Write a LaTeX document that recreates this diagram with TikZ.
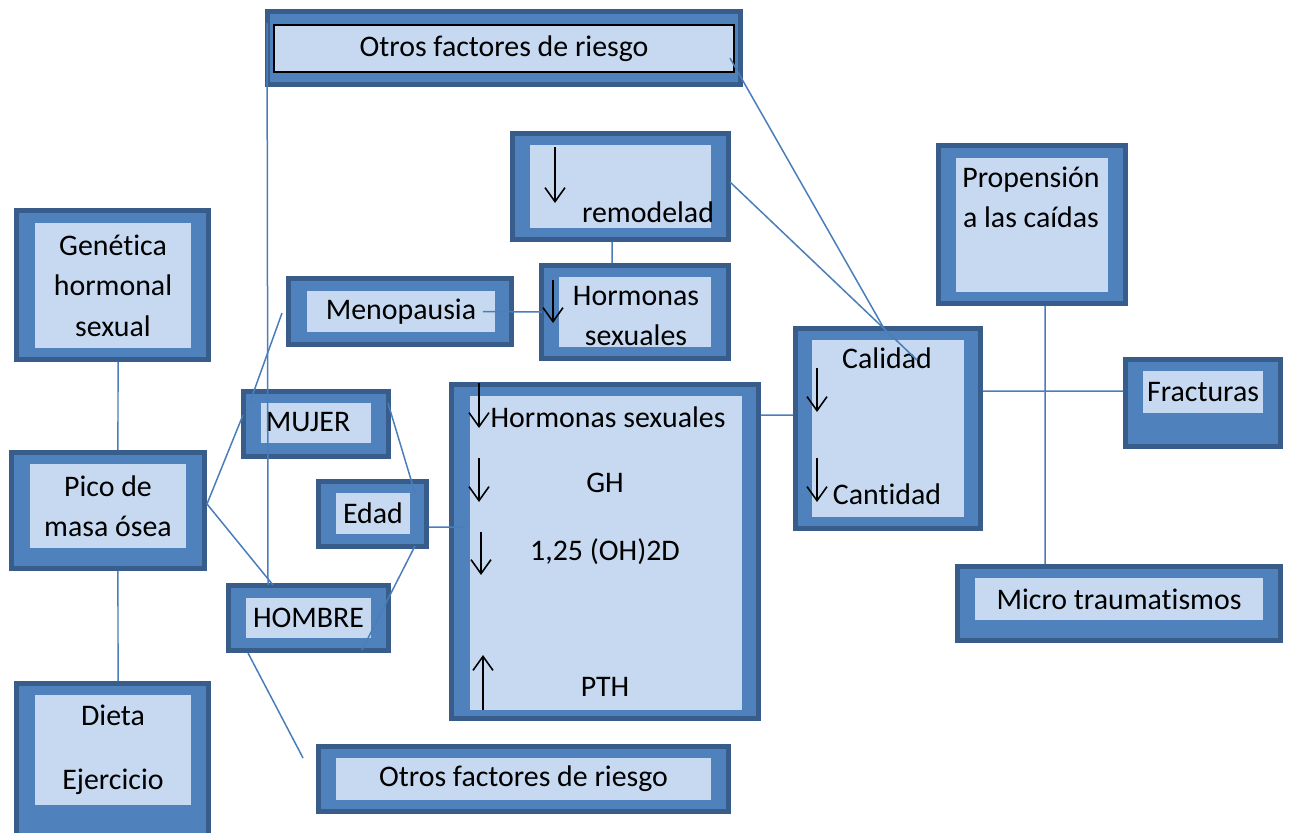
\documentclass[tikz,border=0pt]{standalone}
\usepackage{fontspec}
\setmainfont{Carlito}[Ligatures=NoCommon]
\usepackage{tikz}
\usetikzlibrary{arrows.meta, positioning, calc}
\definecolor{bdark}{RGB}{56,93,138}
\definecolor{bmid}{RGB}{79,129,189}
\definecolor{blight}{RGB}{198,217,241}
\definecolor{linkblue}{RGB}{74,126,187}
\newcommand{\boxfont}{\fontsize{17}{23}\selectfont}

\begin{document}
\begin{tikzpicture}[
      x=0.02cm, y=-0.02cm,
      outer/.style={draw=bdark, line width=0.1cm, fill=bmid, inner sep=0pt},
      inner/.style={fill=blight, inner sep=0pt, align=center, font=\boxfont},
      lbl/.style={inner sep=0pt, align=center, font=\boxfont},
      link/.style={draw=linkblue, line width=0.03cm},
      dn/.style={-{Straight Barb[length=0.28cm, width=0.4cm]}, line width=0.9pt}
  ]
    \useasboundingbox (0,0) rectangle (1291,832);
    \clip (0,0) rectangle (1291,832);

    % outer frames
    \node[outer, minimum width=9.46cm, minimum height=1.46cm] (otrosA) at (504,48) {};
    \node[outer, minimum width=4.32cm, minimum height=2.12cm] (remod)  at (620.5,186.5) {};
    \node[outer, minimum width=3.74cm, minimum height=1.86cm] (horm)   at (635,312) {};
    \node[outer, minimum width=4.46cm, minimum height=1.32cm] (meno)   at (400,311.5) {};
    \node[outer, minimum width=3.84cm, minimum height=2.98cm] (gen)    at (112.5,285) {};
    \node[outer, minimum width=3.86cm, minimum height=2.32cm] (pico)   at (108,510.5) {};
    \node[outer, minimum width=3.84cm, minimum height=3.28cm] (dieta)  at (112.5,765.5) {};
    \node[outer, minimum width=2.90cm, minimum height=1.30cm] (mujer)  at (316,424) {};
    \node[outer, minimum width=2.16cm, minimum height=1.30cm] (edad)   at (372.5,514) {};
    \node[outer, minimum width=3.20cm, minimum height=1.30cm] (hombre) at (308.5,618) {};
    \node[outer, minimum width=8.20cm, minimum height=1.30cm] (otrosB) at (523.5,779) {};
    \node[outer, minimum width=6.14cm, minimum height=6.68cm] (big)    at (605,551.5) {};
    \node[outer, minimum width=3.70cm, minimum height=4.00cm] (cal)    at (888,428.5) {};
    \node[outer, minimum width=3.74cm, minimum height=3.16cm] (prop)   at (1032,224.5) {};
    \node[outer, minimum width=3.10cm, minimum height=1.74cm] (frac)   at (1203,403) {};
    \node[outer, minimum width=6.46cm, minimum height=1.48cm] (micro)  at (1119,603.5) {};

    % inner panels
    \node[inner, draw=black, line width=0.04cm, minimum width=9.2cm, minimum height=0.94cm]
      (otrosA-in) at (504,48.5) {Otros factores de riesgo};
    \node[inner, minimum width=3.62cm, minimum height=1.66cm] (remod-in) at (620.5,186.5) {};
    \node[inner, minimum width=3.04cm, minimum height=1.40cm] (horm-in)  at (635,312) {};
    \node[inner, minimum width=3.76cm, minimum height=0.82cm] (meno-in)  at (401,311.5) {Menopausia};
    \node[inner, minimum width=3.12cm, minimum height=2.50cm] (gen-in)   at (113,285.5)
      {Genética\\hormonal\\sexual};
    \node[inner, minimum width=3.12cm, minimum height=1.68cm] (pico-in)  at (108,506)
      {Pico de\\masa ósea};
    \node[inner, minimum width=3.12cm, minimum height=2.20cm] (dieta-in) at (113,750) {};
    \node[inner, minimum width=2.20cm, minimum height=0.80cm] (mujer-in) at (316,423) {};
    \node[inner, minimum width=1.48cm, minimum height=0.82cm] (edad-in)  at (373,513.5) {Edad};
    \node[inner, minimum width=2.50cm, minimum height=0.80cm] (hombre-in) at (308.5,618) {HOMBRE};
    \node[inner, minimum width=7.50cm, minimum height=0.84cm] (otrosB-in) at (523.5,779)
      {Otros factores de riesgo};
    \node[inner, minimum width=5.44cm, minimum height=6.28cm] (big-in)   at (606,553) {};
    \node[inner, minimum width=3.04cm, minimum height=3.54cm] (cal-in)   at (888,428.5) {};
    \node[inner, minimum width=3.04cm, minimum height=2.68cm] (prop-in)  at (1032,225) {};
    \node[inner, minimum width=2.40cm, minimum height=0.84cm] (frac-in)  at (1203,392) {Fracturas};
    \node[inner, minimum width=5.76cm, minimum height=0.84cm] (micro-in) at (1119,599)
      {Micro traumatismos};

    % texts placed off centre
    \node[lbl] (remod-t)  at (648,212) {remodelad};
    \node[lbl] (horm-t)   at (636,316) {Hormonas\\sexuales};
    \node[lbl] (dieta-t)  at (113,715) {Dieta};
    \node[lbl] (ejerc-t)  at (113,782) {Ejercicio};
    \node[lbl] (mujer-t)  at (308,422) {MUJER};
    \node[lbl] (hs-t)     at (608,417) {Hormonas sexuales};
    \node[lbl] (gh-t)     at (605,483) {GH};
    \node[lbl] (vitd-t)   at (605,552) {1,25 (OH)2D};
    \node[lbl] (pth-t)    at (605,687) {PTH};
    \node[lbl] (calid-t)  at (887,358) {Calidad};
    \node[lbl] (cant-t)   at (887,494) {Cantidad};
    \node[lbl] (prop-t)   at (1031,197.5) {Propensión\\a las caídas};

    % up / down marks
    \draw[dn] (555,147) -- (555,203);
    \draw[dn] (553,280) -- (553,323);
    \draw[dn] (479,383) -- (479,428);
    \draw[dn] (479,458) -- (479,502);
    \draw[dn] (481,532) -- (481,575);
    \draw[dn] (483,710) -- (483,655);
    \draw[dn] (817,368) -- (817,412);
    \draw[dn] (817,458) -- (817,502);

    % connectors
    \draw[link] ([xshift=0.11cm]gen.south) -- ([xshift=0.2cm]pico.north);
    \draw[link] ([xshift=0.2cm]pico.south) -- ([xshift=0.11cm]dieta.north);
    \draw[link] ([yshift=0.13cm]pico.east) -- ([shift={(0.04cm,0.18cm)}]mujer.west);
    \draw[link] ([yshift=0.13cm]pico.east) -- ([shift={(-0.71cm,-0.04cm)}]hombre.north);
    \draw[link] ([shift={(0.04cm,0.5cm)}]otrosA.west) -- ([shift={(0.84cm,-0.04cm)}]hombre.north west);
    \draw[link] ([shift={(-0.08cm,-0.03cm)}]meno.west) -- ([shift={(0.18cm,-0.26cm)}]mujer.north west);
    \draw[link] ([shift={(-0.06cm,-0.28cm)}]mujer.north east) -- ([shift={(-0.28cm,-0.28cm)}]edad.north east);
    \draw[link] ([shift={(-0.28cm,0.06cm)}]edad.south east) -- ([shift={(-0.58cm,0.06cm)}]hombre.south east);
    \draw[link] ([yshift=-0.26cm]edad.east) -- ([shift={(0.32cm,0.49cm)}]big.west);
    \draw[link] ([xshift=-0.62cm]meno.east) -- ([xshift=0.06cm]horm.west);
    \draw[link] ([xshift=-0.17cm]remod.south) -- ([xshift=-0.46cm]horm.north);
    \draw[link] ([yshift=2.73cm]big.east) -- ([yshift=0.27cm]cal.west);
    \draw[link] ([yshift=0.75cm]cal.east) -- ([yshift=0.24cm]frac.west);
    \draw[link] ([xshift=0.26cm]prop.south) -- ([xshift=-1.48cm]micro.north);
    \draw[link] ([shift={(-0.26cm,-0.2cm)}]otrosA.east) -- ([shift={(-0.04cm,-0.12cm)}]cal.north);
    \draw[link] ([shift={(-0.02cm,0.09cm)}]remod.east) -- ([shift={(-1.32cm,-0.68cm)}]cal.north east);
    \draw[link] ([xshift=0.44cm]hombre.south west) -- ([shift={(-0.26cm,0.42cm)}]otrosB.west);
  \end{tikzpicture}
\end{document}
